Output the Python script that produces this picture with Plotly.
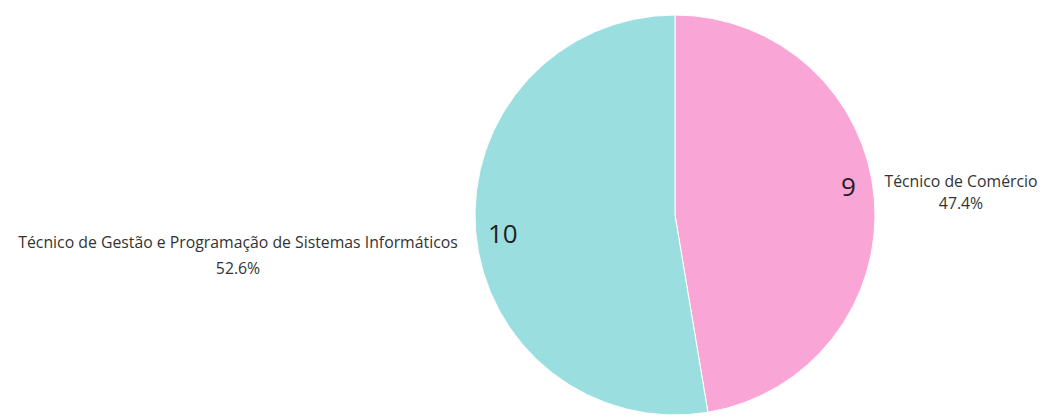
import math
import plotly.graph_objects as go

# Course enrolment counts
labels = ["Técnico de Comércio", "Técnico de Gestão e Programação de Sistemas Informáticos"]
values = [9, 10]
colors = ["#F9A6D7", "#9BDEE0"]

W, H = 1044, 417
CX, CY, R = 675, 215, 200          # pie centre and radius in px

# per-slice label layout: value label radius/offset, name box width, gap to rim, line offsets
label_layout = [
    dict(val_r=174, val_dy=15, box=156, gap=7, name_dy=17, pct_dy=-5),
    dict(val_r=173, val_dy=-4, box=452, gap=10, name_dy=-10, pct_dy=-36),
]

fig = go.Figure(
    go.Pie(
        labels=labels,
        values=values,
        sort=False,
        direction="clockwise",
        rotation=0,
        marker=dict(colors=colors, line=dict(color="white", width=1)),
        textinfo="none",
        hoverinfo="label+value+percent",
        showlegend=False,
        domain=dict(x=[(CX - R) / W, (CX + R) / W],
                    y=[1 - (CY + R) / H, 1 - (CY - R) / H]),
    )
)


def to_paper(px, py):
    return px / W, 1 - py / H


total = sum(values)
cum = 0
annotations = []
for lab, val, lay in zip(labels, values, label_layout):
    mid = math.radians((cum + val / 2) / total * 360)
    cum += val
    sx, sy = math.sin(mid), math.cos(mid)
    right = sx > 0

    # value printed just inside the rim
    vx, vy = to_paper(CX + lay["val_r"] * sx, CY - lay["val_r"] * sy)
    annotations.append(dict(
        x=vx, y=vy, xref="paper", yref="paper", text=str(val), showarrow=False,
        xanchor="center", yanchor="middle", yshift=lay["val_dy"],
        font=dict(family="Open Sans", size=26, color="#222222"),
    ))

    # name and share outside the rim
    ex, ey = to_paper(CX + R * sx, CY - R * sy)
    pct = f"{val / total * 100:.1f}%"
    for txt, dy in ((lab, lay["name_dy"]), (pct, lay["pct_dy"])):
        annotations.append(dict(
            x=ex, y=ey, xref="paper", yref="paper", text=txt, showarrow=False,
            xanchor="left" if right else "right", yanchor="middle",
            xshift=lay["gap"] if right else -lay["gap"], yshift=dy,
            width=lay["box"], align="center",
            font=dict(family="Open Sans", size=15.8, color="#333333"),
        ))

fig.update_layout(
    width=W, height=H,
    margin=dict(l=0, r=0, t=0, b=0),
    paper_bgcolor="white", plot_bgcolor="white",
    annotations=annotations,
)

fig.write_html("out.html")
